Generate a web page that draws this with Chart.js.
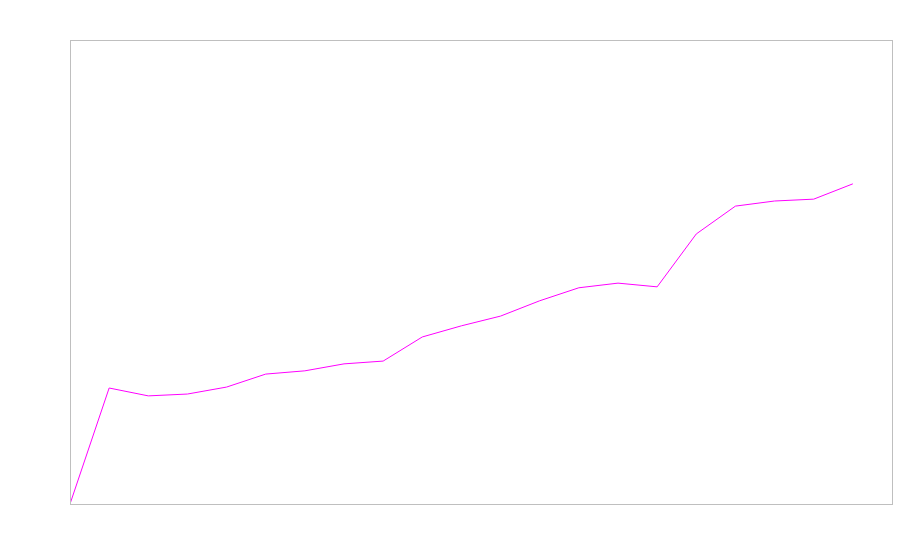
<!DOCTYPE html>
<html>
<head>
<meta charset="utf-8">
<script src="https://cdn.jsdelivr.net/npm/chart.js@4"></script>
<style>
  html, body { margin: 0; padding: 0; background: #fff; }
  #wrap { width: 900px; height: 560px; }
</style>
</head>
<body>
<div id="wrap"><canvas id="chart" width="900" height="560"></canvas></div>
<script>
// Values
const steps = [0, 1, 2, 3, 4, 5, 6, 7, 8, 9, 10, 11, 12, 13, 14, 15, 16, 17, 18, 19, 20];
const values = [0, 25.0, 23.3, 23.7, 25.2, 28.0, 28.7, 30.2, 30.8, 36.0, 38.4, 40.5, 43.8, 46.6, 47.6, 46.8, 58.2, 64.2, 65.3, 65.7, 69.0];

// frame around the plot area
const frame = {
  id: 'frame',
  afterDraw(chart) {
    const a = chart.chartArea;
    const ctx = chart.ctx;
    ctx.save();
    ctx.strokeStyle = '#bfbfbf';
    ctx.lineWidth = 1;
    ctx.strokeRect(Math.round(a.left) + 0.5, Math.round(a.top) + 0.5, Math.round(a.right - a.left), Math.round(a.bottom - a.top));
    ctx.restore();
  }
};

new Chart(document.getElementById('chart'), {
  type: 'line',
  data: {
    datasets: [{
      data: steps.map((s, i) => ({ x: s, y: values[i] })),
      borderColor: '#ff00ff',
      borderWidth: 1,
      pointRadius: 0,
      tension: 0,
      fill: false
    }]
  },
  options: {
    responsive: false,
    animation: false,
    layout: { padding: { left: 70, right: 8, top: 40, bottom: 56 } },
    plugins: { legend: { display: false }, tooltip: { enabled: false } },
    scales: {
      x: { type: 'linear', min: 0, max: 21, display: false },
      y: { min: 0, max: 100, display: false }
    }
  },
  plugins: [frame]
});
</script>
</body>
</html>
